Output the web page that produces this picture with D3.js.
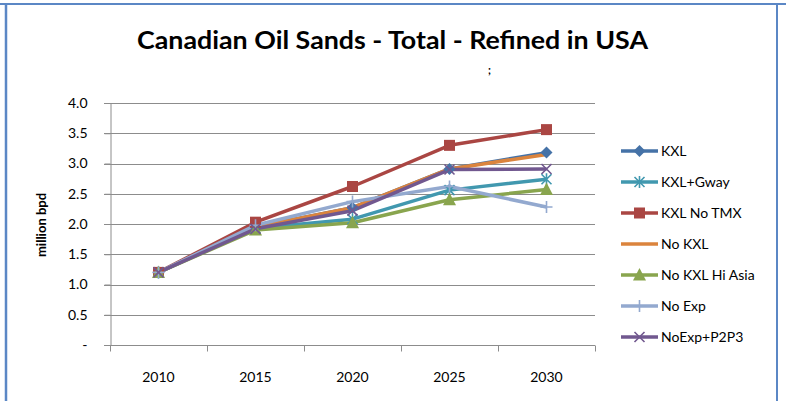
<!DOCTYPE html>
<html>
<head>
<meta charset="utf-8">
<script src="https://cdn.jsdelivr.net/npm/d3@7"></script>
<style>
  body { margin: 0; background: #fff; }
  text { font-family: Lato, "Open Sans", sans-serif; fill: #000; }
</style>
</head>
<body>
<div id="vis"></div>
<script>
// chart data
var years = ["2010", "2015", "2020", "2025", "2030"];
var seriesNames = ["KXL", "KXL+Gway", "KXL No TMX", "No KXL", "No KXL Hi Asia", "No Exp", "NoExp+P2P3"];
var kxl       = [1.2, 1.95, 2.27, 2.91, 3.18];
var kxlGway   = [1.2, 1.93, 2.08, 2.56, 2.74];
var kxlNoTmx  = [1.2, 2.03, 2.62, 3.30, 3.56];
var noKxl     = [1.2, 1.95, 2.27, 2.91, 3.15];
var noKxlAsia = [1.2, 1.90, 2.02, 2.40, 2.57];
var noExp     = [1.2, 1.98, 2.37, 2.62, 2.28];
var noExpP2P3 = [1.2, 1.92, 2.22, 2.90, 2.91];
var yTicks = [0, 0.5, 1, 1.5, 2, 2.5, 3, 3.5, 4];

var seriesValues = [kxl, kxlGway, kxlNoTmx, noKxl, noKxlAsia, noExp, noExpP2P3];
var colors  = ["#4572A7", "#4198AF", "#AA4643", "#DB843D", "#89A54E", "#93A9CF", "#71588F"];
var markers = ["diamond", "star", "square", "none", "triangle", "plus", "cross"];

var series = seriesNames.map(function(name, i) {
  return {
    name: name,
    color: colors[i],
    marker: markers[i],
    values: years.map(function(yr, j) { return {year: yr, value: seriesValues[i][j]}; })
  };
});

var width = 786, height = 401;

var svg = d3.select("#vis").append("svg")
  .attr("width", width)
  .attr("height", height);

// blue frame round the chart
svg.append("line").attr("x1", 0).attr("x2", width).attr("y1", 4).attr("y2", 4)
  .attr("stroke", "#5B87C5").attr("stroke-width", 2);
svg.append("line").attr("x1", 6).attr("x2", 6).attr("y1", 4).attr("y2", height)
  .attr("stroke", "#5B87C5").attr("stroke-width", 2.5);
svg.append("line").attr("x1", 777).attr("x2", 777).attr("y1", 4).attr("y2", height)
  .attr("stroke", "#5B87C5").attr("stroke-width", 2);

// title
svg.append("text")
  .attr("x", 137)
  .attr("y", 49)
  .attr("font-size", "25px")
  .attr("font-weight", "bold")
  .attr("textLength", 511)
  .attr("lengthAdjust", "spacingAndGlyphs")
  .text("Canadian Oil Sands - Total - Refined in USA");

svg.append("text")
  .attr("x", 488)
  .attr("y", 74)
  .attr("font-size", "11px")
  .attr("font-weight", "bold")
  .text(";");

// plot area
var plot = {left: 110, right: 595, top: 103, bottom: 345};

var x = d3.scaleBand().domain(years).range([plot.left, plot.right]).padding(0);
var y = d3.scaleLinear().domain([0, 4]).range([plot.bottom, plot.top]);
var cx = function(yr) { return x(yr) + x.bandwidth() / 2; };

var gridColor = "#8c8c8c";

// gridlines
svg.append("g")
  .selectAll("line")
  .data(yTicks)
  .enter().append("line")
  .attr("x1", plot.left - 6)
  .attr("x2", plot.right)
  .attr("y1", function(d) { return Math.round(y(d)) + 0.5; })
  .attr("y2", function(d) { return Math.round(y(d)) + 0.5; })
  .attr("stroke", gridColor)
  .attr("stroke-width", 1);

// y axis
var yAxis = svg.append("g")
  .attr("transform", "translate(" + (plot.left + 0.5) + ",0)")
  .call(d3.axisLeft(y).tickValues(yTicks).tickSize(6).tickPadding(17)
    .tickFormat(function(d) { return d === 0 ? "-  " : d3.format(".1f")(d); }));
yAxis.select(".domain").attr("stroke", gridColor);
yAxis.selectAll(".tick line").attr("stroke", gridColor);
yAxis.selectAll("text").attr("font-size", "14px").attr("font-family", "Lato, sans-serif").attr("fill", "#000");

// x axis with ticks at the band edges
var xAxis = svg.append("g")
  .attr("transform", "translate(0," + (plot.bottom + 0.5) + ")");
xAxis.append("line")
  .attr("x1", plot.left).attr("x2", plot.right)
  .attr("stroke", gridColor);
xAxis.selectAll(".edge")
  .data(years.concat(["end"]))
  .enter().append("line")
  .attr("class", "edge")
  .attr("x1", function(d, i) { return Math.round(plot.left + i * x.bandwidth()) + 0.5; })
  .attr("x2", function(d, i) { return Math.round(plot.left + i * x.bandwidth()) + 0.5; })
  .attr("y1", 0).attr("y2", 6)
  .attr("stroke", gridColor);
xAxis.selectAll(".lbl")
  .data(years)
  .enter().append("text")
  .attr("class", "lbl")
  .attr("x", cx)
  .attr("y", 36)
  .attr("text-anchor", "middle")
  .attr("font-size", "14px")
  .text(function(d) { return d; });

// y axis title
svg.append("text")
  .attr("transform", "translate(46,225) rotate(-90)")
  .attr("text-anchor", "middle")
  .attr("font-size", "13px")
  .attr("font-weight", "bold")
  .text("million bpd");

// marker drawing
function drawMarker(g, type, color) {
  if (type === "diamond") {
    g.append("path").attr("d", "M0,-6L6,0L0,6L-6,0Z").attr("fill", color);
  } else if (type === "square") {
    g.append("rect").attr("x", -5.5).attr("y", -5.5).attr("width", 11).attr("height", 11).attr("fill", color);
  } else if (type === "triangle") {
    g.append("path").attr("d", "M0,-7L6.5,5.5L-6.5,5.5Z").attr("fill", color);
  } else if (type === "plus") {
    g.append("path").attr("d", "M-6,0H6M0,-6V6").attr("stroke", color).attr("stroke-width", 1.6);
  } else if (type === "cross") {
    g.append("path").attr("d", "M-5,-5L5,5M-5,5L5,-5").attr("stroke", color).attr("stroke-width", 1.6);
  } else if (type === "star") {
    g.append("path").attr("d", "M-5,-5L5,5M-5,5L5,-5M0,-6V6").attr("stroke", color).attr("stroke-width", 1.6);
  }
}

var line = d3.line()
  .x(function(d) { return cx(d.year); })
  .y(function(d) { return y(d.value); });

// lines first, then markers on top
svg.append("g").selectAll("path")
  .data(series)
  .enter().append("path")
  .attr("d", function(d) { return line(d.values); })
  .attr("fill", "none")
  .attr("stroke", function(d) { return d.color; })
  .attr("stroke-width", 3.5)
  .attr("stroke-linejoin", "round");

series.forEach(function(s) {
  s.values.forEach(function(p) {
    var g = svg.append("g").attr("transform", "translate(" + cx(p.year) + "," + y(p.value) + ")");
    drawMarker(g, s.marker, s.color);
  });
});

// legend
var legendX = 621, legendY = 151, legendStep = 31;
series.forEach(function(s, i) {
  var ly = legendY + i * legendStep;
  svg.append("line")
    .attr("x1", legendX).attr("x2", legendX + 37)
    .attr("y1", ly).attr("y2", ly)
    .attr("stroke", s.color).attr("stroke-width", 3.5);
  var g = svg.append("g").attr("transform", "translate(" + (legendX + 18.5) + "," + ly + ")");
  drawMarker(g, s.marker, s.color);
  svg.append("text")
    .attr("x", legendX + 40)
    .attr("y", ly + 5)
    .attr("font-size", "14px")
    .text(s.name);
});
</script>
</body>
</html>
